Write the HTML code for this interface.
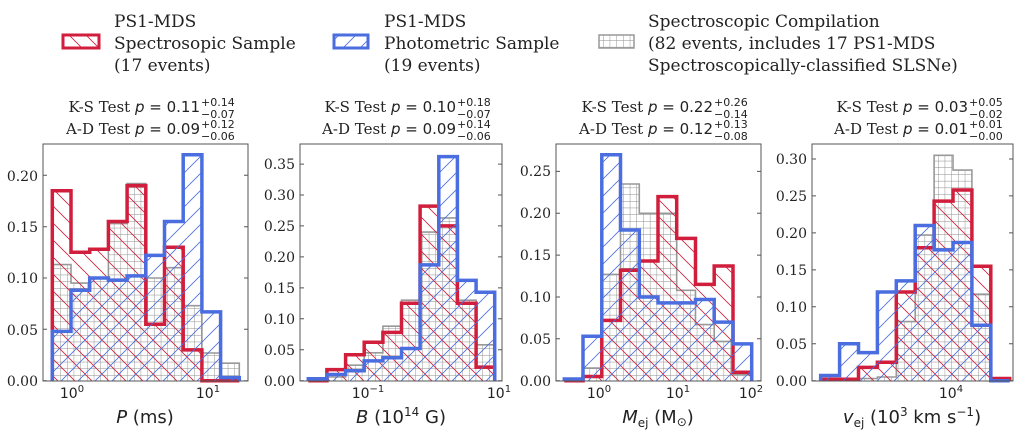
<!DOCTYPE html>
<html><head><meta charset="utf-8"><style>
html,body{margin:0;padding:0;background:#fff;width:1024px;height:439px;overflow:hidden}
svg{display:block}
</style></head><body>
<svg id="svg" width="1024" height="439" viewBox="0 0 1024 439" xmlns="http://www.w3.org/2000/svg">
<defs>
<pattern id="hr" patternUnits="userSpaceOnUse" width="17" height="17"><path d="M-1,-1 L18,18 M-9.5,7.5 L1,18 M8.5,-8.5 L26,8.5" stroke="#d11e3c" stroke-width="0.8" fill="none"/></pattern>
<pattern id="hb" patternUnits="userSpaceOnUse" width="17" height="17"><path d="M-1,18 L18,-1 M-9.5,9.5 L8.5,-8.5 M8.5,25.5 L26,8.5" stroke="#4a6ee0" stroke-width="0.8" fill="none"/></pattern>
<pattern id="hg" patternUnits="userSpaceOnUse" width="6.7" height="6.7"><path d="M0,0 H6.7 M0,0 V6.7" stroke="#8a8a8a" stroke-width="0.9" fill="none"/></pattern>
</defs>
<rect x="63" y="35" width="36" height="13" fill="url(#hr)" stroke="#d11e3c" stroke-width="3"/>
<g font-family="'DejaVu Serif','Liberation Serif',serif" font-size="17" fill="#222">
<text x="114" y="27">PS1-MDS</text><text x="114" y="49">Spectrosopic Sample</text><text x="114" y="71">(17 events)</text>
<text x="384" y="27">PS1-MDS</text><text x="384" y="49">Photometric Sample</text><text x="384" y="71">(19 events)</text>
<text x="648" y="27">Spectroscopic Compilation</text><text x="648" y="49">(82 events, includes 17 PS1-MDS</text><text x="648" y="71">Spectroscopically-classified SLSNe)</text>
</g>
<rect x="334" y="35" width="34" height="13" fill="url(#hb)" stroke="#4a6ee0" stroke-width="3"/>
<rect x="599" y="35" width="35" height="13" fill="url(#hg)" stroke="#999" stroke-width="1.5"/>
<g font-size="15" fill="#222" font-family="'DejaVu Sans',sans-serif">
<text x="200" y="112" text-anchor="end"><tspan font-family="'DejaVu Serif',serif">K-S Test </tspan><tspan font-style="italic">p</tspan> = 0.11</text>
<text x="201" y="106" font-size="11">+0.14</text><text x="201" y="118" font-size="11">−0.07</text>
<text x="200" y="134" text-anchor="end"><tspan font-family="'DejaVu Serif',serif">A-D Test </tspan><tspan font-style="italic">p</tspan> = 0.09</text>
<text x="201" y="128" font-size="11">+0.12</text><text x="201" y="140" font-size="11">−0.06</text>
<text x="456" y="112" text-anchor="end"><tspan font-family="'DejaVu Serif',serif">K-S Test </tspan><tspan font-style="italic">p</tspan> = 0.10</text>
<text x="457" y="106" font-size="11">+0.18</text><text x="457" y="118" font-size="11">−0.07</text>
<text x="456" y="134" text-anchor="end"><tspan font-family="'DejaVu Serif',serif">A-D Test </tspan><tspan font-style="italic">p</tspan> = 0.09</text>
<text x="457" y="128" font-size="11">+0.14</text><text x="457" y="140" font-size="11">−0.06</text>
<text x="713" y="112" text-anchor="end"><tspan font-family="'DejaVu Serif',serif">K-S Test </tspan><tspan font-style="italic">p</tspan> = 0.22</text>
<text x="714" y="106" font-size="11">+0.26</text><text x="714" y="118" font-size="11">−0.14</text>
<text x="713" y="134" text-anchor="end"><tspan font-family="'DejaVu Serif',serif">A-D Test </tspan><tspan font-style="italic">p</tspan> = 0.12</text>
<text x="714" y="128" font-size="11">+0.13</text><text x="714" y="140" font-size="11">−0.08</text>
<text x="968" y="112" text-anchor="end"><tspan font-family="'DejaVu Serif',serif">K-S Test </tspan><tspan font-style="italic">p</tspan> = 0.03</text>
<text x="969" y="106" font-size="11">+0.05</text><text x="969" y="118" font-size="11">−0.02</text>
<text x="968" y="134" text-anchor="end"><tspan font-family="'DejaVu Serif',serif">A-D Test </tspan><tspan font-style="italic">p</tspan> = 0.01</text>
<text x="969" y="128" font-size="11">+0.01</text><text x="969" y="140" font-size="11">−0.00</text>
</g>
<g id="hist"></g>
<g fill="none" stroke="#555" stroke-width="1">
<rect x="43" y="144" width="205" height="237"/>
<rect x="300" y="144" width="202" height="237"/>
<rect x="556" y="144" width="205" height="237"/>
<rect x="812" y="144" width="201" height="237"/>
</g>
<g font-family="'DejaVu Serif','Liberation Serif',serif" font-size="14" fill="#222" text-anchor="end">
<text x="38" y="386">0.00</text><text x="38" y="335">0.05</text><text x="38" y="283">0.10</text><text x="38" y="232">0.15</text><text x="38" y="181">0.20</text>
<text x="295" y="386">0.00</text><text x="295" y="355">0.05</text><text x="295" y="324">0.10</text><text x="295" y="293">0.15</text><text x="295" y="262">0.20</text><text x="295" y="231">0.25</text><text x="295" y="200">0.30</text><text x="295" y="169">0.35</text>
<text x="551" y="386">0.00</text><text x="551" y="344">0.05</text><text x="551" y="302">0.10</text><text x="551" y="260">0.15</text><text x="551" y="218">0.20</text><text x="551" y="176">0.25</text>
<text x="807" y="386">0.00</text><text x="807" y="349">0.05</text><text x="807" y="312">0.10</text><text x="807" y="275">0.15</text><text x="807" y="238">0.20</text><text x="807" y="201">0.25</text><text x="807" y="164">0.30</text>
</g>
<g font-family="'DejaVu Sans',sans-serif" font-size="14" fill="#222" text-anchor="middle">
<text x="72" y="398">10<tspan font-size="10" dy="-6">0</tspan></text>
<text x="208" y="398">10<tspan font-size="10" dy="-6">1</tspan></text>
<text x="368" y="398">10<tspan font-size="10" dy="-6">−1</tspan></text>
<text x="499" y="398">10<tspan font-size="10" dy="-6">1</tspan></text>
<text x="599" y="398">10<tspan font-size="10" dy="-6">0</tspan></text>
<text x="678" y="398">10<tspan font-size="10" dy="-6">1</tspan></text>
<text x="751" y="398">10<tspan font-size="10" dy="-6">2</tspan></text>
<text x="951" y="398">10<tspan font-size="10" dy="-6">4</tspan></text>
</g>
<g font-family="'DejaVu Sans',sans-serif" font-size="18" fill="#222" text-anchor="middle">
<text x="145" y="423"><tspan font-style="italic">P</tspan> (ms)</text>
<text x="401" y="423"><tspan font-style="italic">B</tspan> (10<tspan font-size="12" dy="-7">14</tspan><tspan dy="7"> G)</tspan></text>
<text x="658" y="423"><tspan font-style="italic">M</tspan><tspan font-size="12" dy="4">ej</tspan><tspan dy="-4"> (M</tspan><tspan font-size="12" dy="3">⊙</tspan><tspan dy="-3">)</tspan></text>
<text x="912" y="423"><tspan font-style="italic">v</tspan><tspan font-size="12" dy="4">ej</tspan><tspan dy="-4"> (10</tspan><tspan font-size="12" dy="-7">3</tspan><tspan dy="7"> km s</tspan><tspan font-size="12" dy="-7">−1</tspan><tspan dy="7">)</tspan></text>
</g>
</svg>
<script>
var P=[
 {x0:52.3,dx:18.7,k:1027,yt:[0,.05,.1,.15,.2],L:43,R:248,
  g:[.113,.095,.10,.153,.192,.10,.11,.073,.027,.017],
  r:[.185,.125,.128,.155,.19,.055,.13,.03,0,0],
  b:[.048,.088,.10,.098,.102,.122,.155,.22,.067,.003]},
 {x0:308.3,dx:18.64,k:619,L:300,R:502,yt:[0,.05,.1,.15,.2,.25,.3,.35],
  g:[0,.006,.025,.045,.088,.13,.24,.263,.13,.058],
  r:[0,.018,.042,.062,.078,.125,.282,.25,.125,.022],
  b:[.003,.01,.016,.032,.037,.052,.187,.362,.162,.143]},
 {x0:564.3,dx:18.74,k:837,L:556,R:761,yt:[0,.05,.1,.15,.2,.25],
  g:[0,.015,.127,.235,.2,.2,.108,.067,.047,.007],
  r:[0,.005,.072,.132,.143,.22,.17,.115,.137,.01],
  b:[.002,.053,.27,.18,.1,.093,.093,.097,.07,.044]},
 {x0:820.7,dx:18.9,k:739,L:812,R:1013,yt:[0,.05,.1,.15,.2,.25,.3],
  g:[0,0,.003,.005,.08,.197,.305,.285,.117,0],
  r:[.002,.002,.018,.025,.12,.18,.243,.258,.155,.003],
  b:[.007,.05,.038,.12,.135,.21,.177,.187,.075,0]}
];
var B=380.7,s='';
function path(p,v){var d='M'+p.x0+','+B;for(var i=0;i<v.length;i++){var y=(B-v[i]*p.k).toFixed(1);var xa=(p.x0+i*p.dx).toFixed(1),xb=(p.x0+(i+1)*p.dx).toFixed(1);d+=' L'+xa+','+y+' L'+xb+','+y;}d+=' L'+(p.x0+v.length*p.dx).toFixed(1)+','+B;return d;}
P.forEach(function(p){
 s+='<path d="'+path(p,p.g)+'" fill="url(#hg)" stroke="#999" stroke-width="1.6"/>';
 s+='<path d="'+path(p,p.r)+'" fill="url(#hr)" stroke="#d11e3c" stroke-width="3.5"/>';
 s+='<path d="'+path(p,p.b)+'" fill="url(#hb)" stroke="#4a6ee0" stroke-width="3.5"/>';
 p.yt.forEach(function(t){var y=(B-t*p.k).toFixed(1);s+='<path d="M'+p.L+','+y+' h4 M'+p.R+','+y+' h-4" stroke="#555"/>';});
});
document.getElementById('hist').innerHTML=s;
</script>
</body></html>
